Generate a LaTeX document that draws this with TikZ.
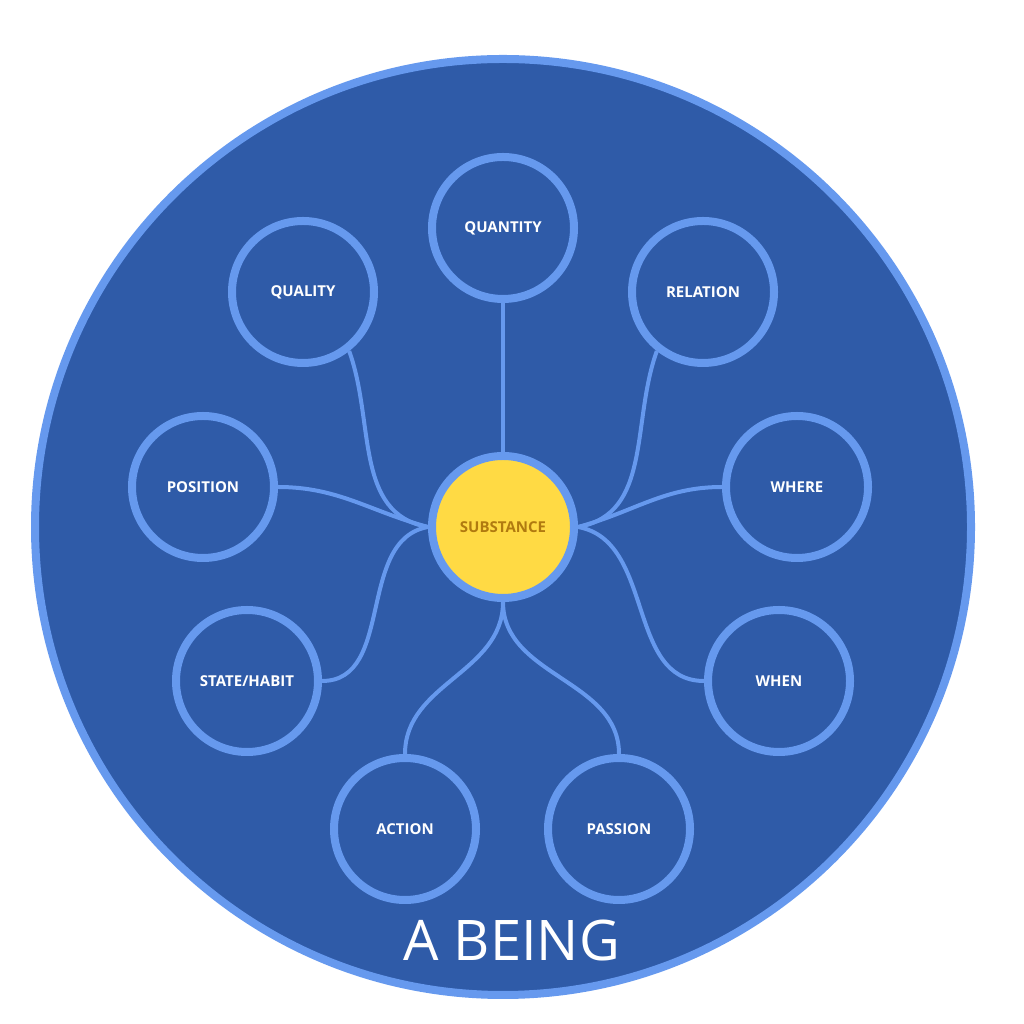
\documentclass[tikz,border=0pt]{standalone}
\usepackage{fontspec}
\setmainfont{Open Sans}
\definecolor{beingblue}{HTML}{2F5BA8}
\definecolor{rimblue}{HTML}{6699EE}
\definecolor{subyellow}{HTML}{FFDA44}
\definecolor{subtext}{HTML}{B07A10}
\tikzset{
  cat/.style={circle, draw=rimblue, line width=8pt, minimum size=142pt,
    inner sep=0pt, text=white, font=\bfseries\fontsize{15}{18}\selectfont},
  link/.style={draw=rimblue, line width=4pt}
}
\begin{document}
\begin{tikzpicture}[x=1pt,y=1pt]
\useasboundingbox (0,0) rectangle (1024,1024);
\draw[fill=beingblue, draw=rimblue, line width=8pt] (503,497) circle (468);

\node[cat, fill=subyellow, text=subtext] (sub) at (503,497) {SUBSTANCE};

\node[cat] (quantity) at (503,796) {QUANTITY};
\node[cat] (quality) at (303,732) {QUALITY};
\node[cat] (relation) at (703,732) {RELATION};
\node[cat] (position) at (203,537) {POSITION};
\node[cat] (where) at (797,537) {WHERE};
\node[cat] (state) at (247,343) {STATE/HABIT};
\node[cat] (when) at (779,343) {WHEN};
\node[cat] (action) at (405,195) {ACTION};
\node[cat] (passion) at (619,195) {PASSION};

% links to the centre
\draw[link] (quantity.south) -- (sub.north);
\draw[link] (quality.-52) to[out=-70, in=170] (sub.180);
\draw[link] (relation.-128) to[out=-110, in=10] (sub.0);
\draw[link] (position.0) to[out=0, in=165] (sub.180);
\draw[link] (where.180) to[out=180, in=15] (sub.0);
\draw[link] (state.0) to[out=0, in=190] (sub.180);
\draw[link] (when.180) to[out=180, in=-10] (sub.0);
\draw[link] (action.north) to[out=90, in=-90] (sub.south);
\draw[link] (passion.north) to[out=90, in=-90] (sub.south);

\node[text=white, font=\fontsize{56}{60}\selectfont] (being) at (512,84) {A BEING};
\end{tikzpicture}
\end{document}
